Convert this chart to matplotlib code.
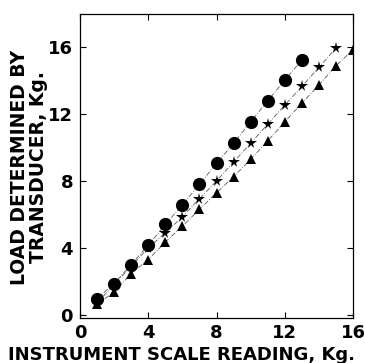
import matplotlib

matplotlib.use('Agg')

import matplotlib.pyplot as plt

# instrument scale reading (Kg) and transducer load (Kg) for the three series
x_circle = [1, 2, 3, 4, 5, 6, 7, 8, 9, 10, 11, 12, 13]
y_circle = [0.96, 1.86, 3.0, 4.16, 5.4, 6.58, 7.8, 9.06, 10.26, 11.54, 12.8,
            14.04, 15.24]
x_star = [1, 2, 3, 4, 5, 6, 7, 8, 9, 10, 11, 12, 13, 14, 15]
y_star = [0.7, 1.8, 2.9, 4.0, 4.9, 5.86, 6.94, 8.0, 9.14, 10.26, 11.4, 12.54,
          13.66, 14.8, 15.96]
x_tri = [1, 2, 3, 4, 5, 6, 7, 8, 9, 10, 11, 12, 13, 14, 15, 16]
y_tri = [0.66, 1.34, 2.46, 3.3, 4.34, 5.3, 6.3, 7.3, 8.26, 9.3, 10.4, 11.54,
         12.66, 13.74, 14.9, 15.86]
ticks = [0, 4, 8, 12, 16]

plt.rcParams['font.family'] = ['DejaVu Sans']
plt.rcParams['font.weight'] = 'bold'

W, H = 365, 363
fig = plt.figure(figsize=(W / 100, H / 100), dpi=100)
ax = fig.add_axes([80 / W, 45 / H, 273 / W, 304 / H])

for xs, ys, m, ms in [(x_circle, y_circle, 'o', 9.5),
                      (x_star, y_star, '*', 8.5),
                      (x_tri, y_tri, '^', 7)]:
    ax.plot(xs, ys, color='0.35', lw=0.6, ls=(0, (6, 2, 1, 2)), zorder=1)
    ax.plot(xs, ys, ls='none', marker=m, ms=ms, color='black', mew=0,
            zorder=2)

ax.set_xlim(0, 16)
ax.set_ylim(-0.2, 18)
ax.set_xticks(ticks)
ax.set_yticks(ticks)
ax.tick_params(direction='in', length=4, width=0.8, labelsize=13,
               top=True, right=True, pad=4)
ax.tick_params(axis='y', pad=5)
for lab in ax.get_xticklabels() + ax.get_yticklabels():
    lab.set_fontweight('bold')
for s in ax.spines.values():
    s.set_linewidth(0.9)

fig.text(182 / W, 1 - 355 / H, 'INSTRUMENT SCALE READING, Kg.', fontsize=13,
         fontweight='bold', ha='center', va='center')
fig.text(20 / W, 1 - 167 / H, 'LOAD DETERMINED BY', fontsize=13.5,
         fontweight='bold', ha='center', va='center', rotation=90)
fig.text(39 / W, 1 - 167 / H, 'TRANSDUCER, Kg.', fontsize=13.5,
         fontweight='bold', ha='center', va='center', rotation=90)

fig.savefig('out.png', dpi=100)
